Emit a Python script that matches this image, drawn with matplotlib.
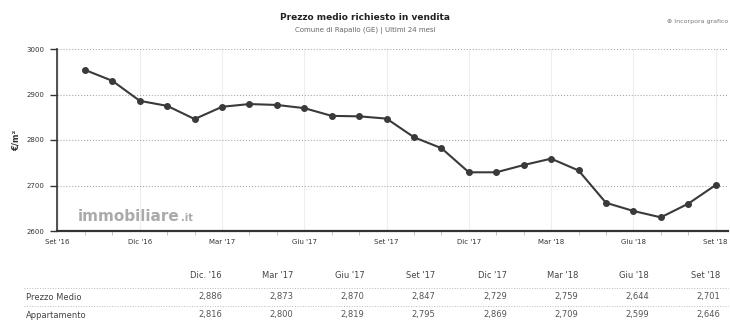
import numpy as np
import matplotlib.pyplot as plt
from matplotlib.ticker import MultipleLocator

# monthly price, Ott '16 .. Set '18 (month index 1..24, Set '16 = 0)
months = np.arange(1, 25)
prezzo = [2954, 2930, 2886, 2875, 2846, 2873, 2879, 2877, 2870, 2853, 2852, 2847,
          2806, 2782, 2729, 2729, 2745, 2759, 2733, 2662, 2644, 2630, 2660, 2701]

tick_pos = [0, 3, 6, 9, 12, 15, 18, 21, 24]
tick_lab = ["Set '16", "Dic '16", "Mar '17", "Giu '17", "Set '17",
            "Dic '17", "Mar '18", "Giu '18", "Set '18"]

tab_head = ["Dic. '16", "Mar '17", "Giu '17", "Set '17", "Dic '17", "Mar '18", "Giu '18", "Set '18"]
tab_prezzo = ["2,886", "2,873", "2,870", "2,847", "2,729", "2,759", "2,644", "2,701"]
tab_appart = ["2,816", "2,800", "2,819", "2,795", "2,869", "2,709", "2,599", "2,646"]

fig = plt.figure(figsize=(7.3, 3.22), dpi=100)
ax = fig.add_axes([57/730, 1-231/322, 671/730, 182/322])

ax.plot(months, prezzo, '-o', color='#3a3a3a', lw=1.5, ms=4, zorder=3)

ax.set_xlim(-0.02, 24.45)
ax.set_ylim(2600, 3000)
ax.yaxis.set_major_locator(MultipleLocator(100))
ax.set_xticks(tick_pos)
ax.set_xticklabels(tick_lab, fontsize=5, color='#333')
ax.xaxis.set_minor_locator(MultipleLocator(1))
ax.tick_params(axis='x', which='major', length=0, pad=6)
ax.tick_params(axis='x', which='minor', length=3, color='#bbb', width=0.6)
ax.tick_params(axis='y', labelsize=5, length=5, width=1, color='#333', labelcolor='#333', pad=4)

ax.grid(axis='y', linestyle=':', color='#aaa', lw=0.8)
ax.grid(axis='x', linestyle='-', color='#eee', lw=0.8)
for s in ['top', 'right']:
    ax.spines[s].set_visible(False)
ax.spines['left'].set_color('#333')
ax.spines['left'].set_linewidth(1.2)
ax.spines['bottom'].set_color('#333')
ax.spines['bottom'].set_linewidth(1.6)

ax.set_ylabel('€/m²', fontsize=6, fontweight='bold', color='#333', labelpad=4)

# watermark
ax.text(0.75, 2622, 'immobiliare', fontsize=11, fontweight='bold', color='#aaa', zorder=1)
ax.text(4.5, 2622, '.it', fontsize=7, fontweight='bold', color='#aaa', zorder=1)

fig.text(0.5, 1-17/322, 'Prezzo medio richiesto in vendita', ha='center', va='center',
         fontsize=6.5, fontweight='bold', color='#222')
fig.text(0.5, 1-31/322, 'Comune di Rapallo (GE) | Ultimi 24 mesi', ha='center', va='center',
         fontsize=5, color='#666')
fig.text(728/730, 1-21/322, '⊕ Incorpora grafico', ha='right', va='center',
         fontsize=4.5, color='#777')

# table under the chart
right_edges = 222 + 71.2 * np.arange(8)
for x, h, p, a in zip(right_edges, tab_head, tab_prezzo, tab_appart):
    fig.text(x/730, 1-275/322, h, ha='right', va='center', fontsize=6, color='#444')
    fig.text(x/730, 1-297/322, p, ha='right', va='center', fontsize=6, color='#555')
    fig.text(x/730, 1-315/322, a, ha='right', va='center', fontsize=6, color='#555')
fig.text(26/730, 1-297/322, 'Prezzo Medio', ha='left', va='center', fontsize=6, color='#444')
fig.text(26/730, 1-315/322, 'Appartamento', ha='left', va='center', fontsize=6, color='#444')
for yy in [288, 306]:
    fig.add_artist(plt.Line2D([24/730, 728/730], [1-yy/322, 1-yy/322], color='#bbb',
                              lw=0.7, ls=':'))

fig.savefig('out.png', dpi=100)
